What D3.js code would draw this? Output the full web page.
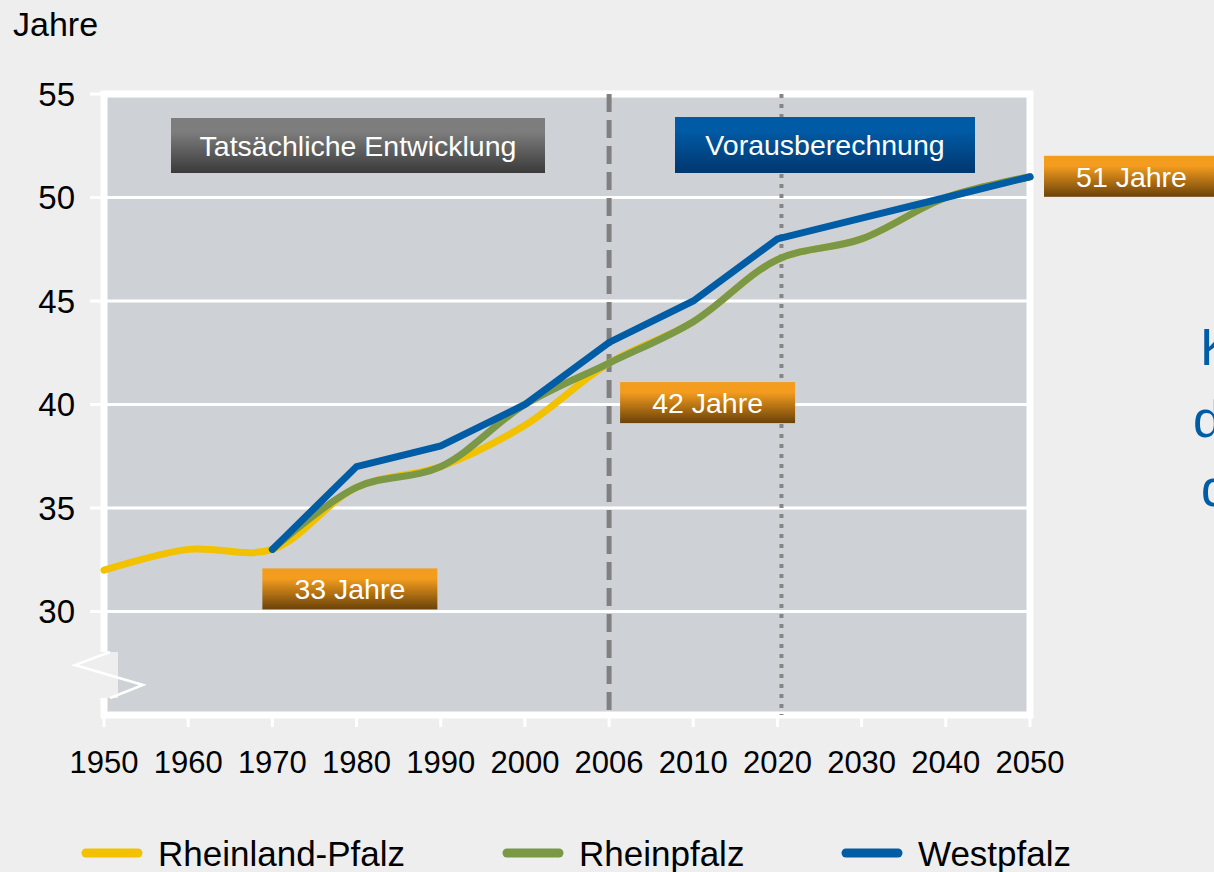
<!DOCTYPE html>
<html>
<head>
<meta charset="utf-8">
<script src="https://cdn.jsdelivr.net/npm/d3@7"></script>
<style>
  html, body { margin: 0; padding: 0; background: #edeeed; }
  svg { display: block; font-family: "Liberation Sans", Arial, sans-serif; }
</style>
</head>
<body>
<svg id="chart" width="1214" height="872"></svg>
<script>
// categories on the x axis (evenly spaced, not a time scale)
const years = ["1950", "1960", "1970", "1980", "1990", "2000", "2006", "2010", "2020", "2030", "2040", "2050"];
// median age in years
const rheinlandPfalz = [32, 33, 33, 36, 37, 39, 42, 44, 47, 48, 50, 51];
const rheinpfalz = [null, null, 33, 36, 37, 40, 42, 44, 47, 48, 50, 51];
const westpfalz = [null, null, 33, 37, 38, 40, 43, 45, 48, 49, 50, 51];
const yTicks = [30, 35, 40, 45, 50, 55];

const seriesNames = ["Rheinland-Pfalz", "Rheinpfalz", "Westpfalz"];
const seriesColors = ["#f2c100", "#7a9846", "#005ca4"];

// value badges: [year, value, text]
const badges = [["1970", 33, "33 Jahre"], ["2006", 42, "42 Jahre"], ["2050", 51, "51 Jahre"]];

function drawChart() {
    const svg = d3.select("#chart");
    const size = { width: 1214, height: 872, left: 104, right: 1030, top: 94, bottom: 715 };

    const x = d3.scalePoint().domain(years).range([size.left, size.right]);
    const y = d3.scaleLinear().domain([25, 55]).range([size.bottom, size.top]);

    const defs = svg.append("defs");
    function gradient(id, top, bottom) {
        const g = defs.append("linearGradient").attr("id", id)
            .attr("x1", 0).attr("y1", 0).attr("x2", 0).attr("y2", 1);
        g.append("stop").attr("offset", "0%").attr("stop-color", top);
        g.append("stop").attr("offset", "25%").attr("stop-color", top);
        g.append("stop").attr("offset", "100%").attr("stop-color", bottom);
    }
    gradient("gOrange", "#f39c1e", "#6a4209");
    gradient("gGrey", "#7d7d7d", "#3a3a3a");
    gradient("gBlue", "#005aa5", "#00376e");

    svg.append("rect").attr("width", size.width).attr("height", size.height).attr("fill", "#edeeed");

    // plot area with white frame
    svg.append("rect")
        .attr("x", size.left).attr("y", size.top)
        .attr("width", size.right - size.left).attr("height", size.bottom - size.top)
        .attr("fill", "#ced2d6")
        .attr("stroke", "#ffffff").attr("stroke-width", 7);

    // horizontal gridlines + y ticks
    svg.selectAll(".grid").data(yTicks).enter().append("line")
        .attr("x1", size.left - 14).attr("x2", size.right)
        .attr("y1", d => y(d)).attr("y2", d => y(d))
        .attr("stroke", "#ffffff").attr("stroke-width", 3);

    svg.selectAll(".ylab").data(yTicks).enter().append("text")
        .attr("x", 75).attr("y", d => y(d)).attr("dy", "0.35em")
        .attr("text-anchor", "end").attr("font-size", 33).attr("fill", "#000")
        .text(d => d);

    // axis break
    svg.append("rect").attr("x", 100).attr("y", 652).attr("width", 18).attr("height", 46).attr("fill", "#edeeed");
    svg.append("polyline")
        .attr("points", "110,652 75,665 143,685 110,698")
        .attr("fill", "none").attr("stroke", "#ffffff").attr("stroke-width", 2.5);

    // x ticks and labels
    svg.selectAll(".xtick").data(years).enter().append("line")
        .attr("x1", d => x(d)).attr("x2", d => x(d))
        .attr("y1", size.bottom).attr("y2", size.bottom + 12)
        .attr("stroke", "#ffffff").attr("stroke-width", 3);

    svg.selectAll(".xlab").data(years).enter().append("text")
        .attr("x", d => x(d)).attr("y", 773)
        .attr("text-anchor", "middle").attr("font-size", 31).attr("fill", "#000")
        .text(d => d);

    // reference lines: end of actual data and 2020
    svg.append("line")
        .attr("x1", x("2006")).attr("x2", x("2006"))
        .attr("y1", size.top).attr("y2", size.bottom)
        .attr("stroke", "#808080").attr("stroke-width", 5).attr("stroke-dasharray", "18,8");
    svg.append("line")
        .attr("x1", x("2020") + 4).attr("x2", x("2020") + 4)
        .attr("y1", size.top).attr("y2", size.bottom)
        .attr("stroke", "#858585").attr("stroke-width", 4).attr("stroke-dasharray", "4,6");

    // period boxes
    svg.append("rect").attr("x", 171).attr("y", 118).attr("width", 374).attr("height", 55).attr("fill", "url(#gGrey)");
    svg.append("text").attr("x", 358).attr("y", 146).attr("dy", "0.35em")
        .attr("text-anchor", "middle").attr("font-size", 28.5).attr("fill", "#fff")
        .text("Tatsächliche Entwicklung");
    svg.append("rect").attr("x", 675).attr("y", 117).attr("width", 300).attr("height", 56).attr("fill", "url(#gBlue)");
    svg.append("text").attr("x", 825).attr("y", 145).attr("dy", "0.35em")
        .attr("text-anchor", "middle").attr("font-size", 28.5).attr("fill", "#fff")
        .text("Vorausberechnung");

    // lines
    const series = [rheinlandPfalz, rheinpfalz, westpfalz];
    const curves = [d3.curveCatmullRom.alpha(0.5), d3.curveCatmullRom.alpha(0.5), d3.curveLinear];
    series.forEach(function(values, i) {
        const pts = years.map((yr, j) => ({ year: yr, value: values[j] })).filter(d => d.value !== null);
        const line = d3.line()
            .x(d => x(d.year))
            .y(d => y(d.value))
            .curve(curves[i]);
        svg.append("path")
            .datum(pts)
            .attr("d", line)
            .attr("fill", "none")
            .attr("stroke", seriesColors[i])
            .attr("stroke-width", 7)
            .attr("stroke-linecap", "round")
            .attr("stroke-linejoin", "miter");
    });

    // value badges
    const badgeOffsets = { "1970": [-10, 19], "2006": [11, 19], "2050": [14, -21] };
    badges.forEach(function(b) {
        const off = badgeOffsets[b[0]];
        const bx = x(b[0]) + off[0];
        const by = y(b[1]) + off[1];
        svg.append("rect").attr("x", bx).attr("y", by).attr("width", 175).attr("height", 41).attr("fill", "url(#gOrange)");
        svg.append("text").attr("x", bx + 87.5).attr("y", by + 21).attr("dy", "0.35em")
            .attr("text-anchor", "middle").attr("font-size", 28.5).attr("fill", "#fff")
            .text(b[2]);
    });

    // y axis title
    svg.append("text").attr("x", 13).attr("y", 36).attr("font-size", 34).attr("fill", "#000").text("Jahre");

    // side text, cut off by the right edge as in the original slide
    const side = [["K", 1200, 365], ["d", 1193, 437], ["d", 1201, 506]];
    svg.selectAll(".side").data(side).enter().append("text")
        .attr("x", d => d[1]).attr("y", d => d[2])
        .attr("font-size", 52).attr("fill", "#005ca4")
        .text(d => d[0]);

    // legend
    const legendX = [82, 503, 842];
    seriesNames.forEach(function(name, i) {
        svg.append("line")
            .attr("x1", legendX[i] + 4).attr("x2", legendX[i] + 56)
            .attr("y1", 853).attr("y2", 853)
            .attr("stroke", seriesColors[i]).attr("stroke-width", 9).attr("stroke-linecap", "round");
        svg.append("text")
            .attr("x", legendX[i] + 76).attr("y", 866)
            .attr("font-size", 35).attr("fill", "#000")
            .text(name);
    });
}

drawChart();
</script>
</body>
</html>
